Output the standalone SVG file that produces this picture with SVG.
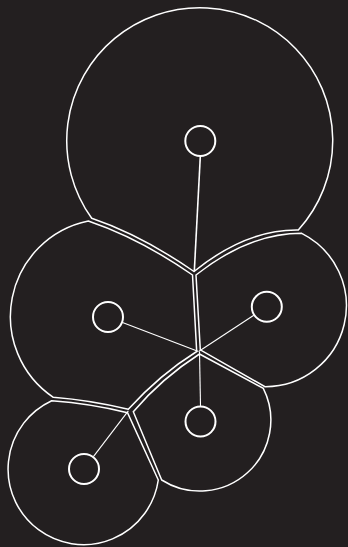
<svg xmlns="http://www.w3.org/2000/svg" width="348" height="547" viewBox="0 0 348 547">
<style>
.cell{fill:none;stroke:#ffffff;stroke-width:1.5;stroke-linejoin:miter}
.node{fill:none;stroke:#ffffff;stroke-width:2}
.link{stroke:#ffffff;stroke-width:1.1;fill:none}
</style>
<rect x="0" y="0" width="348" height="547" fill="#231f20"/>
<g id="cells">
<g id="cell-a"><path class="cell" d="M91.7,218.3 Q141,235 194,271.5 Q246.2,229.2 298.3,230 A133,133 0 1 0 91.7,218.3 Z"/></g>
<g id="cell-b"><path class="cell" d="M88.3,221 Q140,238.5 192.5,275 L196.7,351.5 Q159.6,374.7 128.3,409.3 Q90.8,400.3 53.3,397.3 A97.5,97.5 0 0 1 88.3,221 Z"/></g>
<g id="cell-c"><path class="cell" d="M196,275 Q248.9,233.2 301.7,233.3 A81,81 0 0 1 265,386.7 L200.3,349.8 Z"/></g>
<g id="cell-d"><path class="cell" d="M199.5,354 L263.3,388.3 A71,71 0 0 1 161.7,480 L133.3,411.7 Q162,378 199.5,354 Z"/></g>
<g id="cell-e"><path class="cell" d="M51.7,400.7 Q90.8,403.5 127.5,412.7 L158.3,480 A75.5,75.5 0 1 1 51.7,400.7 Z"/></g>
</g>
<g id="connectors">
<line class="link" style="stroke-width:1.6" x1="200.3" y1="156.5" x2="194.3" y2="271.5"/>
<line class="link" x1="122.5" y1="322.5" x2="198.5" y2="351.5"/>
<line class="link" x1="253.8" y1="315.3" x2="199" y2="351.2"/>
<line class="link" x1="200.5" y1="406" x2="199.5" y2="351.5"/>
<line class="link" x1="93.4" y1="456.6" x2="128.3" y2="410.8"/>
</g>
<g id="node-a"><circle class="node" cx="200.3" cy="141" r="15"/></g>
<g id="node-b"><circle class="node" cx="108" cy="317" r="15"/></g>
<g id="node-c"><circle class="node" cx="266.8" cy="306.8" r="15"/></g>
<g id="node-d"><circle class="node" cx="200.5" cy="421.5" r="15"/></g>
<g id="node-e"><circle class="node" cx="84" cy="469" r="15"/></g>
</svg>
